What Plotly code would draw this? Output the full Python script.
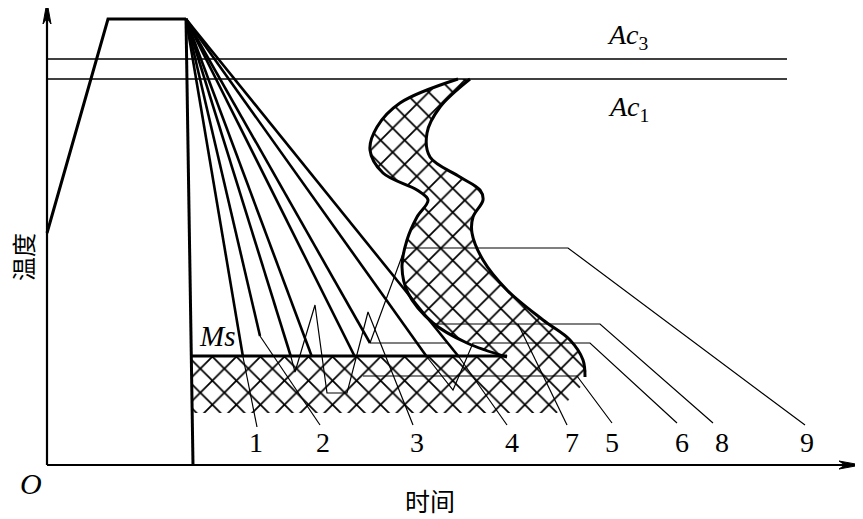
import plotly.graph_objects as go

W, H = 863, 519
PAGE_MARGIN = 8  # default body margin of the written html page

# ---- schematic data (pixel-space units of the drawing) ----
axis_y_x = [47, 47]; axis_y_y = [465, 8]
axis_x_x = [47, 852]; axis_x_y = [465, 465]
arrow_up_x = [47, 43, 47, 51, 47]; arrow_up_y = [2, 24, 18, 24, 2]
arrow_rt_x = [861, 839, 845, 839, 861]; arrow_rt_y = [465, 461, 465, 469, 465]

heat_x = [47, 108, 186]; heat_y = [233, 19, 19]
quench_x = [186, 193]; quench_y = [19, 465]

ac3_x = [47, 787]; ac3_y = [59, 59]
ac1_x = [47, 787]; ac1_y = [79, 79]
ms_x = [192, 507]; ms_y = [356, 356]

# cooling curve end points (all start at the end of holding)
cool_start = (186, 19)
cool_end_x = [243, 260, 291, 312, 355, 370, 427, 459]
cool_end_y = [357, 336, 357, 357, 357, 343, 357, 357]

# C-curve (transformation region) boundaries
c_left_x = [458, 400, 377, 370, 383, 417, 428, 417, 407, 402, 408, 433, 467, 507]
c_left_y = [79, 103, 127, 150, 173, 190, 200, 217, 240, 267, 293, 323, 343, 357]
c_right_x = [470, 440, 427, 430, 460, 480, 483, 473, 472, 483, 507, 543, 570, 583, 585]
c_right_y = [79, 107, 133, 157, 177, 190, 200, 217, 233, 260, 290, 320, 340, 360, 377]

# martensite band below Ms
band_x = [192, 507, 585, 585, 557, 192]
band_y = [357, 357, 375, 382, 413, 413]

# leader / continuation lines
leaders = {
    "1": ([243, 257], [357, 427]),
    "2": ([260, 320], [336, 425]),
    "3": ([291, 295, 315, 327, 347, 368, 413], [357, 372, 305, 393, 393, 312, 425]),
    "4a": ([370, 448], [343, 343]),
    "4": ([459, 507], [357, 425]),
    "6": ([427, 453, 473, 590, 677], [357, 390, 343, 343, 423]),
    "5": ([363, 577, 612], [376, 376, 423]),
    "8": ([433, 600, 713], [324, 324, 423]),
    "7": ([518, 567], [324, 425]),
    "9": ([370, 405, 568, 805], [343, 248, 248, 425]),
}

label_text = ["1", "2", "3", "4", "7", "5", "6", "8", "9"]
label_x = [256, 323, 417, 512, 572, 612, 682, 722, 807]
label_y = 442

fig = go.Figure()

def line(x, y, w, shape="linear"):
    fig.add_trace(go.Scatter(x=x, y=y, mode="lines", line=dict(color="black", width=w, shape=shape),
                             hoverinfo="skip", showlegend=False))

pattern = dict(shape="x", size=17, solidity=0.2, fgcolor="black", bgcolor="white", fillmode="replace")

# hatched band
fig.add_trace(go.Scatter(x=band_x, y=band_y, mode="lines", fill="toself", fillcolor="white",
                         fillpattern=pattern, line=dict(width=0, color="rgba(0,0,0,0)"),
                         hoverinfo="skip", showlegend=False))
# hatched C-curve
fig.add_trace(go.Scatter(x=c_left_x + c_right_x[::-1], y=c_left_y + c_right_y[::-1], mode="lines",
                         fill="toself", fillcolor="white", fillpattern=pattern,
                         line=dict(width=0, color="rgba(0,0,0,0)", shape="spline", smoothing=1),
                         hoverinfo="skip", showlegend=False))

# axes
line(axis_y_x, axis_y_y, 2.2)
line(axis_x_x, axis_x_y, 2.2)
for ax_, ay_ in ((arrow_up_x, arrow_up_y), (arrow_rt_x, arrow_rt_y)):
    fig.add_trace(go.Scatter(x=ax_, y=ay_, mode="lines", fill="toself", fillcolor="black",
                             line=dict(color="black", width=1), hoverinfo="skip", showlegend=False))

# critical temperature lines
line(ac3_x, ac3_y, 1.6)
line(ac1_x, ac1_y, 1.6)

# heating / holding / quench
line(heat_x, heat_y, 3)
line(quench_x, quench_y, 3)

# leaders (thin)
for k, (lx, ly) in leaders.items():
    line(lx, ly, 1.2)

# cooling curves (thick)
for ex, ey in zip(cool_end_x, cool_end_y):
    line([cool_start[0], ex], [cool_start[1], ey], 2.6)

# Ms line
line(ms_x, ms_y, 3.2)

# C-curve outline
line(c_left_x, c_left_y, 3, "spline")
line(c_right_x, c_right_y, 3, "spline")

serif = "Liberation Serif, Times New Roman, serif"
cjk = "Noto Sans CJK SC"

ann = []
for t, x in zip(label_text, label_x):
    ann.append(dict(x=x, y=label_y, text=t, showarrow=False, font=dict(family=serif, size=28, color="black")))
ann += [
    dict(x=628, y=36, text="<i>Ac</i><sub>3</sub>", showarrow=False, font=dict(family=serif, size=28, color="black")),
    dict(x=628, y=108, text="<i>Ac</i><sub>1</sub>", showarrow=False, font=dict(family=serif, size=28, color="black")),
    dict(x=217, y=336, text="<i>Ms</i>", showarrow=False, font=dict(family=serif, size=29, color="black")),
    dict(x=31, y=483, text="<i>O</i>", showarrow=False, font=dict(family=serif, size=30, color="black")),
    dict(x=22, y=257, text="温度", textangle=-90, showarrow=False, font=dict(family=cjk, size=24, color="black")),
    dict(x=430, y=500, text="时间", showarrow=False, font=dict(family=cjk, size=25, color="black")),
]

fig.update_layout(
    width=W - PAGE_MARGIN, height=H - PAGE_MARGIN, margin=dict(l=0, r=0, t=0, b=0),
    paper_bgcolor="white", plot_bgcolor="white", annotations=ann,
    xaxis=dict(range=[PAGE_MARGIN, W], visible=False, fixedrange=True),
    yaxis=dict(range=[H, PAGE_MARGIN], visible=False, fixedrange=True),
)
fig.write_html("out.html")
